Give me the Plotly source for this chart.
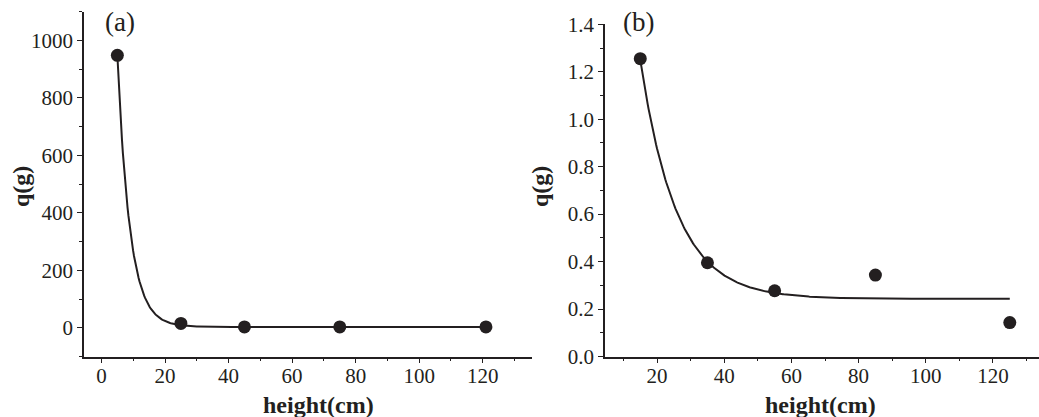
import numpy as np
import plotly.graph_objects as go

# ---- data: panel (a) ----
height_a = [5, 25, 45, 75, 121]
q_a = [948, 15, 3, 3, 3]
# exponential-decay fit  q = y0 + A * exp(-h / t)
fit_a = dict(y0=3.0, A=3405.0, t=3.9)

# ---- data: panel (b) ----
height_b = [15, 35, 55, 85, 125]
q_b = [1.255, 0.395, 0.277, 0.343, 0.143]
fit_b = dict(y0=0.243, A=4.06, t=10.76)

x_ticks_a = [0, 20, 40, 60, 80, 100, 120]
x_ticks_b = [20, 40, 60, 80, 100, 120]
y_ticks_a = [0, 200, 400, 600, 800, 1000]
y_ticks_b = [0.0, 0.2, 0.4, 0.6, 0.8, 1.0, 1.2, 1.4]

W, H = 1039, 417
INK = "#231f20"
SERIF = "Liberation Serif"


def decay(h, p):
    return p["y0"] + p["A"] * np.exp(-np.asarray(h, dtype=float) / p["t"])


ha = np.linspace(min(height_a), max(height_a), 400)
hb = np.linspace(min(height_b), max(height_b), 400)

fig = go.Figure()
fig.add_trace(go.Scatter(x=ha, y=decay(ha, fit_a), mode="lines",
                         line=dict(color=INK, width=2), xaxis="x", yaxis="y",
                         hoverinfo="skip"))
fig.add_trace(go.Scatter(x=height_a, y=q_a, mode="markers",
                         marker=dict(color=INK, size=13), xaxis="x", yaxis="y"))
fig.add_trace(go.Scatter(x=hb, y=decay(hb, fit_b), mode="lines",
                         line=dict(color=INK, width=2), xaxis="x2", yaxis="y2",
                         hoverinfo="skip"))
fig.add_trace(go.Scatter(x=height_b, y=q_b, mode="markers",
                         marker=dict(color=INK, size=13), xaxis="x2", yaxis="y2"))


def px_x(p):
    return p / W


def px_y(p):
    return 1 - p / H


axis_common = dict(
    showgrid=False, zeroline=False, showline=True, linecolor=INK, linewidth=1.6,
    ticks="outside", ticklen=5, tickwidth=1.4, tickcolor=INK,
    tickfont=dict(family=SERIF, size=21, color=INK),
    mirror=False, automargin=False,
)
minor_x = dict(dtick=10, tick0=0, ticks="outside", ticklen=3,
               tickwidth=1.2, tickcolor=INK)

fig.update_layout(
    width=W, height=H,
    margin=dict(l=0, r=0, t=0, b=0),
    paper_bgcolor="white", plot_bgcolor="white",
    showlegend=False,
    xaxis=dict(**axis_common, domain=[px_x(84), px_x(532)], range=[-5.5, 135.5],
               tickvals=x_ticks_a, anchor="y", ticklabelstandoff=-6,
               minor=minor_x),
    yaxis=dict(**axis_common, domain=[px_y(356.5), px_y(11.7)], range=[-100, 1100],
               tickvals=y_ticks_a, anchor="x",
               minor=dict(dtick=100, tick0=0, ticks="outside", ticklen=3,
                          tickwidth=1.2, tickcolor=INK)),
    xaxis2=dict(**axis_common, domain=[px_x(605), 1.0], range=[4.5, 133.7],
                tickvals=x_ticks_b, anchor="y2", ticklabelstandoff=-6,
                minor=minor_x),
    yaxis2=dict(**axis_common, domain=[px_y(356.5), px_y(24.3)], range=[0, 1.4],
                tickvals=y_ticks_b, ticktext=[f"{v:.1f}" for v in y_ticks_b],
                anchor="x2",
                minor=dict(dtick=0.1, tick0=0, ticks="outside", ticklen=3,
                           tickwidth=1.2, tickcolor=INK)),
)

title_font = dict(family=SERIF, size=24, color=INK)
label_font = dict(family=SERIF, size=27, color=INK)
notes = [
    dict(text="<b>height(cm)</b>", x=px_x(318), y=px_y(405), font=title_font),
    dict(text="<b>height(cm)</b>", x=px_x(820), y=px_y(405), font=title_font),
    dict(text="<b>q(g)</b>", x=px_x(21), y=px_y(187), font=title_font, textangle=-90),
    dict(text="<b>q(g)</b>", x=px_x(540), y=px_y(187), font=title_font, textangle=-90),
    dict(text="(a)", x=px_x(120), y=px_y(22), font=label_font),
    dict(text="(b)", x=px_x(638), y=px_y(22), font=label_font),
]
for n in notes:
    fig.add_annotation(xref="paper", yref="paper", showarrow=False,
                       xanchor="center", yanchor="middle", **n)

fig.write_html("out.html")
